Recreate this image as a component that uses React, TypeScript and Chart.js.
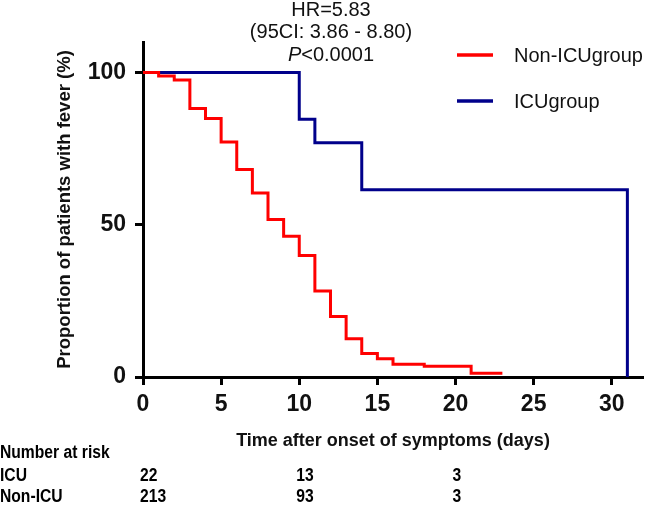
import React, { useEffect, useRef } from "react";
import { Chart, registerables } from "chart.js";

Chart.register(...registerables);

// ---- Data ----
const nonIcuDays = [0, 1, 2, 3, 4, 5, 6, 7, 8, 9, 10, 11, 12, 13, 14, 15, 16, 18, 21, 23];
const nonIcuPct = [100, 98.8, 97.5, 88.2, 84.9, 77.2, 68.1, 60.4, 51.7, 46.2, 39.9, 28.2, 19.9, 12.6, 7.7, 6.0, 4.2, 3.5, 1.2, 1.2];
const icuDays = [0, 10, 11, 14, 31];
const icuPct = [100, 84.6, 76.9, 61.5, 0];
const seriesLabels = ["Non-ICUgroup", "ICUgroup"];
const seriesColors = ["#ff0000", "#00008b"];
const xTicks = [0, 5, 10, 15, 20, 25, 30];
const yTicks = [0, 50, 100];
const statLines = ["HR=5.83", "(95CI: 3.86 - 8.80)"];
const pItalic = "P";
const pRest = "<0.0001";
const riskTitle = "Number at risk";
const riskRowLabels = ["ICU", "Non-ICU"];
const riskTimes = [0, 10, 20];
const riskIcu = [22, 13, 3];
const riskNonIcu = [213, 93, 3];
const xTitle = "Time after onset of symptoms (days)";
const yTitle = "Proportion of patients with fever (%)";

const SANS = '"Liberation Sans", Arial, Helvetica, sans-serif';

function narrowText(ctx: CanvasRenderingContext2D, s: string, x: number, y: number, sx: number) {
  ctx.save();
  ctx.translate(x, y);
  ctx.scale(sx, 1);
  ctx.fillText(s, 0, 0);
  ctx.restore();
}

const overlay = {
  id: "overlay",
  afterDraw(chart: any) {
    const ctx = chart.ctx as CanvasRenderingContext2D;
    const xs = chart.scales.x;
    ctx.save();
    ctx.fillStyle = "#111";
    ctx.textBaseline = "alphabetic";
    ctx.textAlign = "left";

    // Statistics annotation
    const cx = 331;
    ctx.font = `20px ${SANS}`;
    const baselines = [16, 38, 61];
    statLines.forEach((s, i) => {
      const w = ctx.measureText(s).width;
      ctx.fillText(s, cx - w / 2, baselines[i]);
    });
    ctx.font = `italic 20px ${SANS}`;
    const wP = ctx.measureText(pItalic).width;
    ctx.font = `20px ${SANS}`;
    const wR = ctx.measureText(pRest).width;
    const startX = cx - (wP + wR) / 2;
    ctx.font = `italic 20px ${SANS}`;
    ctx.fillText(pItalic, startX, baselines[2]);
    ctx.font = `20px ${SANS}`;
    ctx.fillText(pRest, startX + wP, baselines[2]);

    // Legend
    const legendY = [55, 101];
    seriesLabels.forEach((lab, i) => {
      ctx.strokeStyle = seriesColors[i];
      ctx.lineWidth = 3.5;
      ctx.beginPath();
      ctx.moveTo(457, legendY[i]);
      ctx.lineTo(493, legendY[i]);
      ctx.stroke();
      ctx.font = `20px ${SANS}`;
      ctx.fillStyle = "#111";
      ctx.fillText(lab, 514, legendY[i] + 7);
    });

    // Number at risk table
    ctx.font = `bold 18px ${SANS}`;
    ctx.fillStyle = "#000";
    const sx = 0.87;
    narrowText(ctx, riskTitle, 0, 458, sx);
    const rowY = [481, 502];
    const rows = [riskIcu, riskNonIcu];
    riskRowLabels.forEach((lab, r) => {
      narrowText(ctx, lab, 0, rowY[r], sx);
      rows[r].forEach((v, k) => {
        const px = xs.getPixelForValue(riskTimes[k]) - 3;
        narrowText(ctx, String(v), px, rowY[r], sx);
      });
    });
    ctx.restore();
  },
};

export default function App() {
  const ref = useRef<HTMLCanvasElement | null>(null);

  useEffect(() => {
    document.body.style.margin = "0";
    const canvas = ref.current;
    if (!canvas) return;
    const chart = new Chart(canvas, {
      type: "line",
      data: {
        datasets: [
          {
            label: seriesLabels[0],
            data: nonIcuDays.map((d, i) => ({ x: d, y: nonIcuPct[i] })),
            borderColor: seriesColors[0],
            backgroundColor: seriesColors[0],
            borderWidth: 3,
            stepped: true,
            pointRadius: 0,
            fill: false,
          },
          {
            label: seriesLabels[1],
            data: icuDays.map((d, i) => ({ x: d, y: icuPct[i] })),
            borderColor: seriesColors[1],
            backgroundColor: seriesColors[1],
            borderWidth: 3,
            stepped: true,
            pointRadius: 0,
            fill: false,
          },
        ],
      },
      options: {
        responsive: false,
        maintainAspectRatio: false,
        animation: false,
        layout: { padding: { top: 42, right: 7, left: 0, bottom: 0 } },
        plugins: { legend: { display: false }, tooltip: { enabled: false } },
        scales: {
          x: {
            type: "linear",
            min: 0,
            max: 32,
            afterBuildTicks: (s: any) => {
              s.ticks = xTicks.map((v) => ({ value: v }));
            },
            afterFit: (s: any) => {
              s.height = 128;
            },
            grid: { drawOnChartArea: false, drawTicks: true, tickLength: 8, tickWidth: 3, tickColor: "#000", color: "#000" },
            border: { display: true, color: "#000", width: 3 },
            ticks: {
              color: "#111",
              font: { family: SANS, size: 23, weight: "bold", lineHeight: 1.2 },
              padding: 6,
              maxRotation: 0,
              autoSkip: false,
            },
            title: {
              display: true,
              text: xTitle,
              color: "#111",
              font: { family: SANS, size: 18, weight: "bold", lineHeight: 1.2 },
              padding: { top: 0, bottom: 53 },
            },
          },
          y: {
            type: "linear",
            min: 0,
            max: 110,
            afterBuildTicks: (s: any) => {
              s.ticks = yTicks.map((v) => ({ value: v }));
            },
            afterFit: (s: any) => {
              s.width = 143;
            },
            grid: { drawOnChartArea: false, drawTicks: true, tickLength: 8, tickWidth: 3, tickColor: "#000", color: "#000" },
            border: { display: true, color: "#000", width: 3 },
            ticks: {
              color: "#111",
              font: { family: SANS, size: 23, weight: "bold", lineHeight: 1.2 },
              padding: 9,
              autoSkip: false,
            },
            title: {
              display: true,
              text: yTitle,
              color: "#111",
              font: { family: SANS, size: 18.5, weight: "bold", lineHeight: 1.2 },
              padding: { top: 54, bottom: 0 },
            },
          },
        },
      },
      plugins: [overlay],
    });
    return () => chart.destroy();
  }, []);

  return (
    <div style={{ width: 650, height: 505, position: "relative" }}>
      <canvas ref={ref} width={650} height={505} style={{ display: "block", width: 650, height: 505 }} />
    </div>
  );
}
